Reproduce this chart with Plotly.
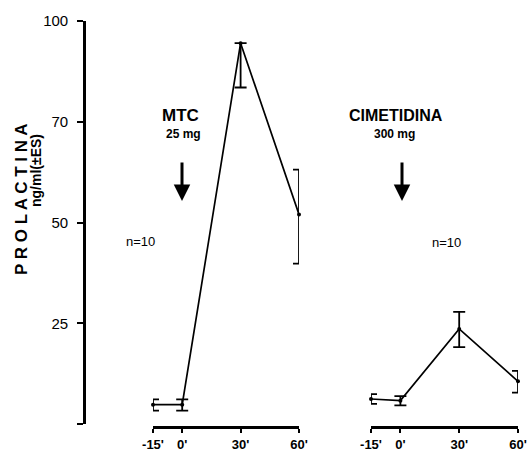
import plotly.graph_objects as go

# ---- data ----
time_min = [-15, 0, 30, 60]
time_labels = ["-15'", "0'", "30'", "60'"]

mtc_mean = [4.8, 4.8, 94.5, 52.0]
mtc_se_up = [1.3, 1.3, 0.0, 11.1]
mtc_se_down = [1.5, 1.5, 11.0, 12.2]

cim_mean = [6.2, 5.8, 23.6, 10.6]
cim_se_up = [1.2, 1.1, 4.2, 2.6]
cim_se_down = [1.2, 1.2, 4.5, 2.8]

# y tick labels as printed on the original axis (the "70" mark sits at the 75 level)
y_tick_pos = [0, 25, 50, 75, 100]
y_tick_text = ["", "25", "50", "70", "100"]

W, H = 531, 455
FONT = "Liberation Sans, Arial, sans-serif"


def px(x):
    return x / W


def py(y):
    return 1 - y / H


def trace(xa, mean, up, down):
    return go.Scatter(
        x=time_min, y=mean, xaxis=xa, yaxis="y",
        mode="lines+markers",
        line=dict(color="black", width=1.7),
        marker=dict(color="black", size=4),
        error_y=dict(type="data", symmetric=False, array=up, arrayminus=down,
                     color="black", thickness=1.8, width=6),
        cliponaxis=False, showlegend=False, hoverinfo="skip",
    )


fig = go.Figure()
fig.add_trace(trace("x", mtc_mean, mtc_se_up, mtc_se_down))
fig.add_trace(trace("x2", cim_mean, cim_se_up, cim_se_down))

xcommon = dict(
    range=[-15, 60], tickvals=time_min, ticktext=time_labels,
    showline=True, linecolor="black", linewidth=2.8,
    ticks="outside", ticklen=4, tickwidth=1.6, tickcolor="black",
    showgrid=False, zeroline=False, anchor="free", position=py(427),
    automargin=False, ticklabeloverflow="allow",
    tickfont=dict(family=FONT, size=13, color="black", weight="bold"),
)

fig.update_layout(
    template="none",
    width=W, height=H, autosize=False,
    margin=dict(l=0, r=0, t=0, b=0, pad=0),
    paper_bgcolor="white", plot_bgcolor="white",
    xaxis=dict(domain=[px(153), px(299)], **xcommon),
    xaxis2=dict(domain=[px(371), px(518)], **xcommon),
    yaxis=dict(
        domain=[py(424), py(21)], range=[0, 100],
        tickvals=y_tick_pos, ticktext=y_tick_text,
        showline=True, linecolor="black", linewidth=2.6,
        ticks="outside", ticklen=6, tickwidth=1.6, tickcolor="black",
        showgrid=False, zeroline=False, anchor="free", position=px(84),
        automargin=False, ticklabelstandoff=6,
        tickfont=dict(family=FONT, size=15, color="black"),
    ),
)

ann = []


def label(x, y, text, size, bold=True, angle=0):
    ann.append(dict(
        x=px(x), y=py(y), xref="paper", yref="paper", text=text,
        showarrow=False, textangle=angle, xanchor="center", yanchor="middle",
        font=dict(family=FONT, size=size, color="black",
                  weight="bold" if bold else "normal"),
    ))


label(21, 200, "P R O L A C T I N A", 17, angle=-90)
label(36, 171, "ng/ml(±ES)", 14, angle=-90)
label(180, 116, "MTC", 17)
label(183, 134, "25 mg", 12)
label(396, 116, "CIMETIDINA", 16)
label(394, 134, "300 mg", 12)
label(140, 241, "n=10", 13, bold=False)
label(446, 242, "n=10", 13, bold=False)

for xa in (182, 402):
    ann.append(dict(
        x=px(xa), y=py(201), xref="paper", yref="paper",
        ax=0, ay=-40, axref="pixel", ayref="pixel",
        showarrow=True, arrowhead=2, arrowsize=1.1, arrowwidth=3,
        arrowcolor="black", text="",
    ))

fig.update_layout(annotations=ann)
# remove the browser's default 8px body margin so the figure fills the window
fig.write_html("out.html", config={"displayModeBar": False},
               post_script="document.body.style.margin='0px';")
